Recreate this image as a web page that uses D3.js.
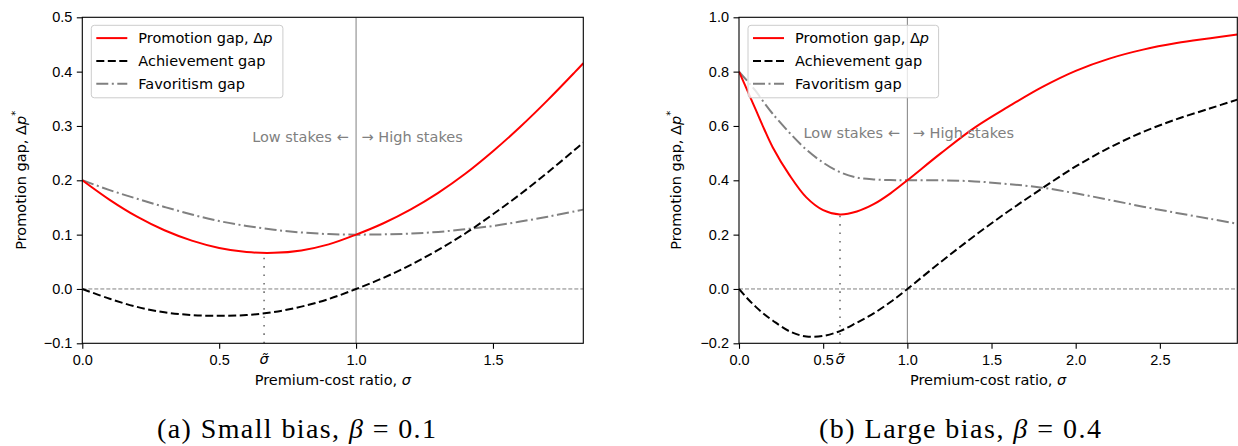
<!DOCTYPE html>
<html>
<head>
<meta charset="utf-8">
<script src="https://cdnjs.cloudflare.com/ajax/libs/d3/7.8.5/d3.min.js"></script>
<style>
  body { margin: 0; background: #fff; }
  svg { display: block; font-family: "DejaVu Sans", sans-serif; }
  .tick text { font-size: 14.5px; fill: #000; }
  .tick line { stroke: #000; stroke-width: 1.1; }
</style>
</head>
<body>
<svg id="chart" width="1238" height="446"></svg>
<script>
// panel (a): small bias, beta = 0.1
var sigmaA = [0, 0.1, 0.2, 0.3, 0.4, 0.5, 0.6, 0.7, 0.8, 0.9, 1.0, 1.1, 1.2, 1.3, 1.4, 1.5, 1.6, 1.7, 1.8, 1.83];
var promoA = [0.200, 0.164, 0.133, 0.108, 0.089, 0.0755, 0.068, 0.0665, 0.071, 0.082, 0.100, 0.121, 0.1465, 0.177, 0.2125, 0.2535, 0.2985, 0.3475, 0.3995, 0.4155];
var achieveA = [0, -0.018, -0.033, -0.043, -0.048, -0.0495, -0.048, -0.0425, -0.0325, -0.0185, 0, 0.0205, 0.0445, 0.072, 0.1025, 0.1375, 0.1745, 0.2145, 0.2565, 0.2695];
var favorA = [0.200, 0.182, 0.166, 0.151, 0.137, 0.125, 0.116, 0.109, 0.104, 0.101, 0.100, 0.1005, 0.102, 0.105, 0.110, 0.116, 0.124, 0.133, 0.143, 0.146];
var ticksXA = [0, 0.5, 1.0, 1.5];
var ticksYA = [-0.1, 0, 0.1, 0.2, 0.3, 0.4, 0.5];
var sigTildeA = 0.664, minPromoA = 0.067;

// panel (b): large bias, beta = 0.4
var sigmaB = [0, 0.05, 0.1, 0.15, 0.2, 0.3, 0.4, 0.5, 0.6, 0.7, 0.8, 0.9, 1.0, 1.2, 1.4, 1.6, 1.8, 2.0, 2.2, 2.4, 2.6, 2.8, 2.96];
var promoB = [0.800, 0.730, 0.659, 0.588, 0.522, 0.419, 0.337, 0.290, 0.274, 0.285, 0.312, 0.352, 0.400, 0.500, 0.594, 0.671, 0.743, 0.803, 0.848, 0.881, 0.905, 0.923, 0.937];
var achieveB = [0, -0.035, -0.066, -0.093, -0.116, -0.156, -0.175, -0.173, -0.155, -0.124, -0.090, -0.048, 0, 0.100, 0.196, 0.286, 0.370, 0.451, 0.520, 0.578, 0.625, 0.665, 0.697];
var favorB = [0.800, 0.765, 0.728, 0.685, 0.645, 0.575, 0.513, 0.465, 0.430, 0.410, 0.403, 0.401, 0.400, 0.400, 0.396, 0.386, 0.373, 0.352, 0.328, 0.303, 0.280, 0.258, 0.240];
var ticksXB = [0, 0.5, 1.0, 1.5, 2.0, 2.5];
var ticksYB = [-0.2, 0, 0.2, 0.4, 0.6, 0.8, 1.0];
var sigTildeB = 0.6, minPromoB = 0.274;

var legendNames = ["Promotion gap, Δ", "Achievement gap", "Favoritism gap"];
var captionHeads = ["(a) Small bias, ", "(b) Large bias, "];
var captionTails = [" = 0.1", " = 0.4"];

var svg = d3.select("#chart");
svg.append("rect").attr("width", 1238).attr("height", 446).attr("fill", "#fff");

var styles = [
    { stroke: "#ff0000", dash: null },
    { stroke: "#000000", dash: "8,3.5" },
    { stroke: "#808080", dash: "12,3.5,2,3.5" }
];

function drawPanel(p) {
    var x = d3.scaleLinear().domain(p.xdom).range([p.left, p.right]);
    var y = d3.scaleLinear().domain(p.ydom).range([p.bottom, p.top]);
    var g = svg.append("g");

    var clipId = "clip" + p.id;
    g.append("clipPath").attr("id", clipId)
        .append("rect")
        .attr("x", p.left).attr("y", p.top)
        .attr("width", p.right - p.left).attr("height", p.bottom - p.top);

    var plot = g.append("g").attr("clip-path", "url(#" + clipId + ")");

    // zero line
    plot.append("line")
        .attr("x1", p.left).attr("x2", p.right)
        .attr("y1", y(0)).attr("y2", y(0))
        .attr("stroke", "#808080").attr("stroke-width", 1)
        .attr("stroke-dasharray", "4,2");

    // sigma = 1 divider
    plot.append("line")
        .attr("x1", x(1)).attr("x2", x(1))
        .attr("y1", p.top).attr("y2", p.bottom)
        .attr("stroke", "#808080").attr("stroke-width", 1);

    // dotted line at sigma tilde
    plot.append("line")
        .attr("x1", x(p.sigTilde)).attr("x2", x(p.sigTilde))
        .attr("y1", y(p.ydom[0])).attr("y2", y(p.minPromo))
        .attr("stroke", "#707070").attr("stroke-width", 1.6)
        .attr("stroke-dasharray", "1.6,6.8");

    var line = d3.line()
        .x(function (d) { return x(d[0]); })
        .y(function (d) { return y(d[1]); })
        .curve(d3.curveCatmullRom.alpha(0.5));

    // favoritism first, then achievement, promotion on top
    [2, 1, 0].forEach(function (k) {
        var vals = p.series[k];
        var pts = p.sigma.map(function (s, i) { return [s, vals[i]]; });
        plot.append("path")
            .attr("d", line(pts))
            .attr("fill", "none")
            .attr("stroke", styles[k].stroke)
            .attr("stroke-width", 2)
            .attr("stroke-dasharray", styles[k].dash);
    });

    // stakes annotation
    g.append("text")
        .attr("x", x(1) - 7.5).attr("y", p.stakesY)
        .attr("text-anchor", "end")
        .attr("fill", "#808080").attr("font-size", 14.5)
        .text("Low stakes ←");
    g.append("text")
        .attr("x", x(1) + 5.5).attr("y", p.stakesY)
        .attr("fill", "#808080").attr("font-size", 14.5)
        .text("→ High stakes");

    // axes
    var xAxis = g.append("g")
        .attr("transform", "translate(0," + p.bottom + ")")
        .call(d3.axisBottom(x).tickValues(p.ticksX).tickFormat(d3.format(".1f"))
            .tickSize(5.5).tickSizeOuter(0).tickPadding(5.5));
    xAxis.select(".domain").remove();

    // sigma tilde tick label
    g.append("text")
        .attr("x", x(p.sigTilde)).attr("y", p.bottom + 21)
        .attr("text-anchor", "middle")
        .attr("font-size", 14.5).attr("font-style", "italic")
        .text("σ\u0303");

    var yAxis = g.append("g")
        .attr("transform", "translate(" + p.left + ",0)")
        .call(d3.axisLeft(y).tickValues(p.ticksY).tickFormat(d3.format(".1f"))
            .tickSize(5.5).tickSizeOuter(0).tickPadding(4.5));
    yAxis.select(".domain").remove();

    // frame
    g.append("rect")
        .attr("x", p.left).attr("y", p.top)
        .attr("width", p.right - p.left).attr("height", p.bottom - p.top)
        .attr("fill", "none").attr("stroke", "#000").attr("stroke-width", 1.1);

    // axis labels
    var xl = g.append("text")
        .attr("x", (p.left + p.right) / 2).attr("y", 385)
        .attr("text-anchor", "middle").attr("font-size", 14.5);
    xl.append("tspan").text("Premium-cost ratio, ");
    xl.append("tspan").attr("font-style", "italic").text("σ");

    var yl = g.append("text")
        .attr("transform", "translate(" + p.ylabelX + "," + ((p.top + p.bottom) / 2) + ") rotate(-90)")
        .attr("text-anchor", "middle").attr("font-size", 14.5);
    yl.append("tspan").text("Promotion gap, Δ");
    yl.append("tspan").attr("font-style", "italic").text("p");
    yl.append("tspan").attr("font-size", 10).attr("dy", -7).text("*");

    // legend
    var lx = p.left + 9, ly = p.top + 8;
    var leg = g.append("g");
    leg.append("rect")
        .attr("x", lx).attr("y", ly).attr("width", p.legendW).attr("height", 72.5)
        .attr("rx", 3).attr("fill", "#fff").attr("fill-opacity", 0.8)
        .attr("stroke", "#cccccc").attr("stroke-width", 1);
    legendNames.forEach(function (name, k) {
        var yy = ly + 12.8 + k * 22.8;
        leg.append("line")
            .attr("x1", lx + 5).attr("x2", lx + 36)
            .attr("y1", yy).attr("y2", yy)
            .attr("stroke", styles[k].stroke).attr("stroke-width", 2)
            .attr("stroke-dasharray", styles[k].dash);
        var t = leg.append("text")
            .attr("x", lx + 47).attr("y", yy).attr("dy", "0.36em")
            .attr("font-size", 14.5);
        t.append("tspan").text(name);
        if (k === 0) t.append("tspan").attr("font-style", "italic").text("p");
    });

    // caption
    var cap = svg.append("text")
        .attr("x", p.capX).attr("y", 438)
        .attr("font-family", "'Liberation Serif', serif")
        .attr("font-size", 28)
        .attr("textLength", p.capW).attr("lengthAdjust", "spacing");
    cap.append("tspan").text(captionHeads[p.idx]);
    cap.append("tspan").attr("font-style", "italic").text("β");
    cap.append("tspan").text(captionTails[p.idx]);
}

drawPanel({
    id: "A", idx: 0, left: 82.3, right: 583.3, top: 17.3, bottom: 343.3,
    xdom: [0, 1.83], ydom: [-0.1, 0.5],
    sigma: sigmaA, series: [promoA, achieveA, favorA],
    ticksX: ticksXA, ticksY: ticksYA,
    sigTilde: sigTildeA, minPromo: minPromoA,
    stakesY: 142.3, ylabelX: 26, legendW: 191.6,
    capX: 157, capW: 279
});

drawPanel({
    id: "B", idx: 1, left: 739, right: 1237.3, top: 17.3, bottom: 343.3,
    xdom: [0, 2.96], ydom: [-0.2, 1.0],
    sigma: sigmaB, series: [promoB, achieveB, favorB],
    ticksX: ticksXB, ticksY: ticksYB,
    sigTilde: sigTildeB, minPromo: minPromoB,
    stakesY: 137.7, ylabelX: 681, legendW: 190.6,
    capX: 819, capW: 282
});
</script>
</body>
</html>
